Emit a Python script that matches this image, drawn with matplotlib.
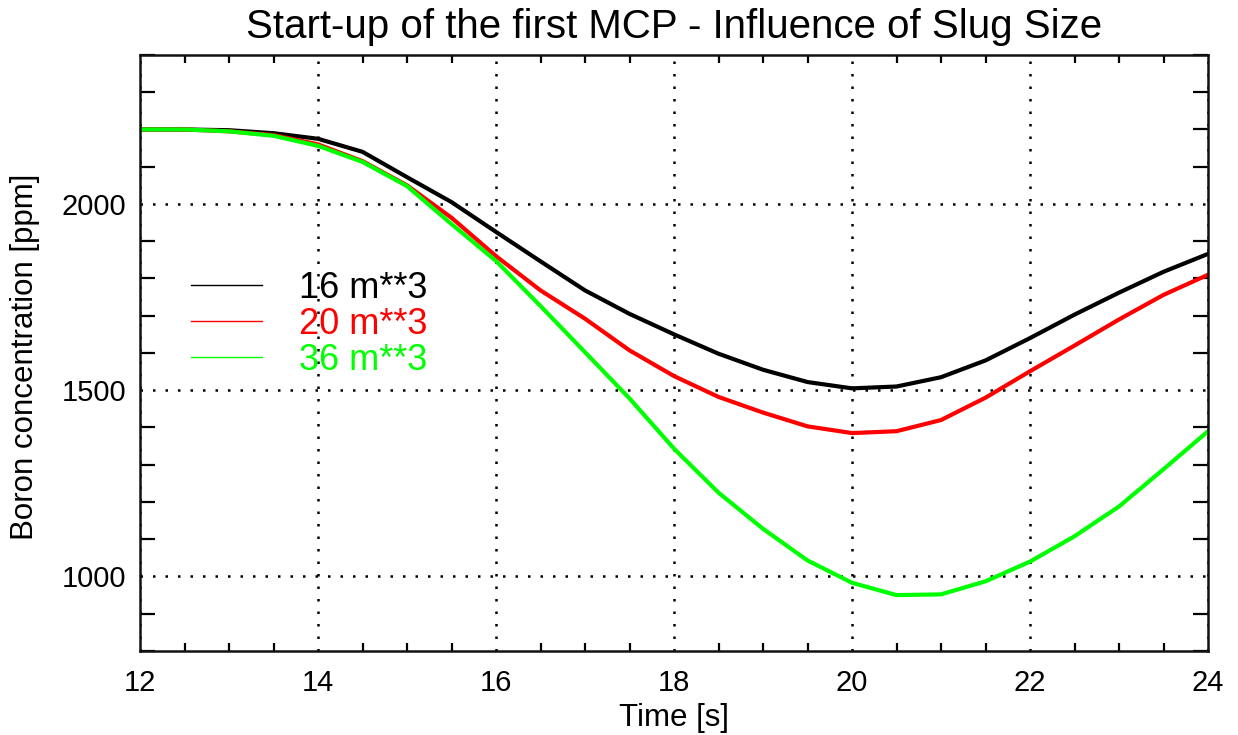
import matplotlib
matplotlib.use("Agg")
from matplotlib import pyplot as plt
from matplotlib.lines import Line2D
from matplotlib.ticker import MultipleLocator

# Boron concentration [ppm] vs time [s], read every 0.5 s
time_s = [12.0, 12.5, 13.0, 13.5, 14.0, 14.5, 15.0, 15.5, 16.0, 16.5, 17.0, 17.5,
          18.0, 18.5, 19.0, 19.5, 20.0, 20.5, 21.0, 21.5, 22.0, 22.5, 23.0, 23.5, 24.0]
slug_16 = [2200, 2200, 2198, 2190, 2175, 2140, 2072, 2005, 1925, 1846, 1768, 1705,
           1650, 1598, 1555, 1522, 1505, 1510, 1535, 1580, 1640, 1703, 1762, 1818, 1866]
slug_20 = [2200, 2200, 2195, 2185, 2160, 2115, 2050, 1963, 1860, 1768, 1692, 1607,
           1538, 1482, 1440, 1403, 1385, 1390, 1420, 1480, 1551, 1620, 1690, 1756, 1810]
slug_36 = [2200, 2200, 2195, 2183, 2156, 2113, 2048, 1946, 1847, 1726, 1602, 1478,
           1343, 1225, 1128, 1043, 983, 950, 952, 987, 1040, 1108, 1188, 1288, 1390]

labels = ["16 m**3", "20 m**3", "36 m**3"]
colors = ["black", "#ff0000", "#00ff00"]

plt.rcParams["font.family"] = ["Liberation Sans", "DejaVu Sans"]

fig = plt.figure(figsize=(12.38, 7.35), dpi=100)
ax = fig.add_axes([0.1131, 0.1143, 0.8627, 0.8109])

for series, color in zip([slug_16, slug_20, slug_36], colors):
    ax.plot(time_s, series, color=color, lw=3.0, solid_capstyle="round")

ax.set_xlim(12, 24)
ax.set_ylim(800, 2400)
ax.xaxis.set_major_locator(MultipleLocator(2))
ax.xaxis.set_minor_locator(MultipleLocator(0.5))
ax.yaxis.set_major_locator(MultipleLocator(500))
ax.yaxis.set_minor_locator(MultipleLocator(100))

ax.tick_params(which="both", direction="in", top=True, right=True, labelsize=21,
               colors="black")
ax.tick_params(which="major", length=0)
ax.tick_params(axis="x", which="major", pad=13)
ax.tick_params(axis="y", which="major", pad=10)
ax.tick_params(axis="x", which="minor", length=6, width=1.6)
ax.tick_params(axis="y", which="minor", length=11, width=1.6)

ax.grid(which="major", color="black", linestyle=(0, (1, 4)), linewidth=1.8)
for spine in ax.spines.values():
    spine.set_linewidth(1.8)
    spine.set_color("#111111")

ax.set_title("Start-up of the first MCP - Influence of Slug Size",
             fontsize=29, family=["Liberation Sans Narrow", "Liberation Sans"], pad=12)
ax.set_xlabel("Time [s]", fontsize=22.5, labelpad=4)
ax.set_ylabel("Boron concentration [ppm]", fontsize=22.5)
ax.yaxis.set_label_coords(-0.094, 0.493)

handles = [Line2D([0], [0], color=c, lw=1.0) for c in colors]
ax.legend(handles, labels, loc="upper left", bbox_to_anchor=(0.048, 0.638),
          frameon=False, fontsize=26, labelcolor=colors, handlelength=1.97,
          handletextpad=1.02, labelspacing=0.03, borderpad=0, borderaxespad=0)

fig.savefig("out.png", dpi=100)
